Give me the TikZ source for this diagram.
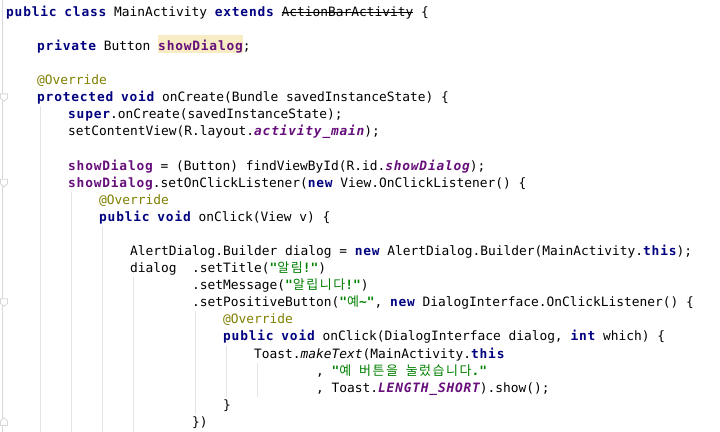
\documentclass[tikz,border=0pt]{standalone}
\usepackage{fontspec}
\usepackage{tikz}
\usetikzlibrary{positioning,calc}

\newfontfamily\codefont{DejaVu Sans Mono}
\newfontfamily\codebold[LetterSpace=6.2]{DejaVu Sans Mono}
\newfontfamily\krfont[LetterSpace=11.5]{Noto Sans CJK KR}

\definecolor{kwcol}{HTML}{000080}
\definecolor{fldcol}{HTML}{660E7A}
\definecolor{strcol}{HTML}{008000}
\definecolor{anncol}{HTML}{808000}
\definecolor{hlcol}{HTML}{F7ECC4}
\definecolor{guidecol}{HTML}{E4E4E4}
\definecolor{guttercol}{HTML}{D8D8D8}

\newcommand\kw[1]{{\codebold\bfseries\color{kwcol}#1}}
\newcommand\fld[1]{{\codebold\bfseries\color{fldcol}#1}}
\newcommand\sfld[1]{{\codebold\bfseries\itshape\color{fldcol}#1}}
\newcommand\smeth[1]{{\itshape #1}}
\newcommand\ann[1]{{\color{anncol}#1}}
\newcommand\str[1]{{\bfseries\color{strcol}#1}}
\newcommand\ko[1]{{\fontsize{13bp}{17bp}\krfont\mdseries #1}}
\newcommand\hl[1]{\setbox0\hbox{#1}\rlap{\color{hlcol}\rule[-2.5bp]{\wd0}{18bp}}\box0\relax}
\newcommand\strike[1]{\setbox0\hbox{#1}\rlap{\rule[3.4bp]{\wd0}{0.8bp}}\box0\relax}

\tikzset{
  code/.style={anchor=base west, inner sep=0pt, outer sep=0pt,
    font=\codefont\fontsize{12.87bp}{17bp}\selectfont\frenchspacing},
  guide/.style={draw=guidecol, line width=1bp},
  gutter/.style={draw=guttercol, line width=1bp},
  foldopen/.pic={\draw[draw=guttercol, fill=white, line width=0.8bp]
    (-3.5bp,3.5bp) -- (3.5bp,3.5bp) -- (3.5bp,-1bp) -- (0bp,-4bp) -- (-3.5bp,-1bp) -- cycle;},
  foldclose/.pic={\draw[draw=guttercol, fill=white, line width=0.8bp]
    (-3.5bp,-3.5bp) -- (3.5bp,-3.5bp) -- (3.5bp,1bp) -- (0bp,4bp) -- (-3.5bp,1bp) -- cycle;}
}

\begin{document}
\begin{tikzpicture}[x=7.75bp, y=-17.08bp]
\useasboundingbox[fill=white] (-6.2bp,16.4bp) rectangle (713.8bp,-415.6bp);

\draw[gutter] (-0.53,-0.96) -- (-0.53,24.33);
\pic at (-0.28,4.74) {foldopen};
\pic at (-0.28,9.74) {foldopen};
\pic at (-0.28,16.74) {foldopen};
\pic at (-0.28,23.74) {foldclose};

\draw[guide] (4.44,5.27) -- (4.44,24.33);
\draw[guide] (8.44,10.27) -- (8.44,24.33);
\draw[guide] (12.44,12.27) -- (12.44,24.33);
\draw[guide] (16.44,15.27) -- (16.44,24.33);
\draw[guide] (24.44,17.27) -- (24.44,23.27);
\draw[guide] (28.44,19.27) -- (28.44,22.27);
\draw[guide] (32.44,20.27) -- (32.44,22.27);

\node[code] (l0) at (0,0) {\kw{public} \kw{class} MainActivity \kw{extends} \strike{ActionBarActivity} \{};
\node[code] (l2) at (4,2) {\kw{private} Button \hl{\fld{showDialog}};};
\node[code] (l4) at (4,4) {\ann{@Override}};
\node[code] (l5) at (4,5) {\kw{protected} \kw{void} onCreate(Bundle savedInstanceState) \{};
\node[code] (l6) at (8,6) {\kw{super}.onCreate(savedInstanceState);};
\node[code] (l7) at (8,7) {setContentView(R.layout.\sfld{activity\_main});};
\node[code] (l9) at (8,9) {\fld{showDialog} = (Button) findViewById(R.id.\sfld{showDialog});};
\node[code] (l10) at (8,10) {\fld{showDialog}.setOnClickListener(\kw{new} View.OnClickListener() \{};
\node[code] (l11) at (12,11) {\ann{@Override}};
\node[code] (l12) at (12,12) {\kw{public} \kw{void} onClick(View v) \{};
\node[code] (l14) at (16,14) {AlertDialog.Builder dialog = \kw{new} AlertDialog.Builder(MainActivity.\kw{this});};
\node[code] (l15) at (16,15) {dialog\ \ .setTitle(\str{"\ko{알림}!"})};
\node[code] (l16) at (24,16) {.setMessage(\str{"\ko{알립니다}!"})};
\node[code] (l17) at (24,17) {.setPositiveButton(\str{"\ko{예}\textasciitilde"}, \kw{new} DialogInterface.OnClickListener() \{};
\node[code] (l18) at (28,18) {\ann{@Override}};
\node[code] (l19) at (28,19) {\kw{public} \kw{void} onClick(DialogInterface dialog, \kw{int} which) \{};
\node[code] (l20) at (32,20) {Toast.\smeth{makeText}(MainActivity.\kw{this}};
\node[code] (l21) at (40,21) {, \str{"\ko{예} \ko{버튼을} \ko{눌렀습니다}."}};
\node[code] (l22) at (40,22) {, Toast.\sfld{LENGTH\_SHORT}).show();};
\node[code] (l23) at (28,23) {\}};
\node[code] (l24) at (24,24) {\})};
\end{tikzpicture}
\end{document}
